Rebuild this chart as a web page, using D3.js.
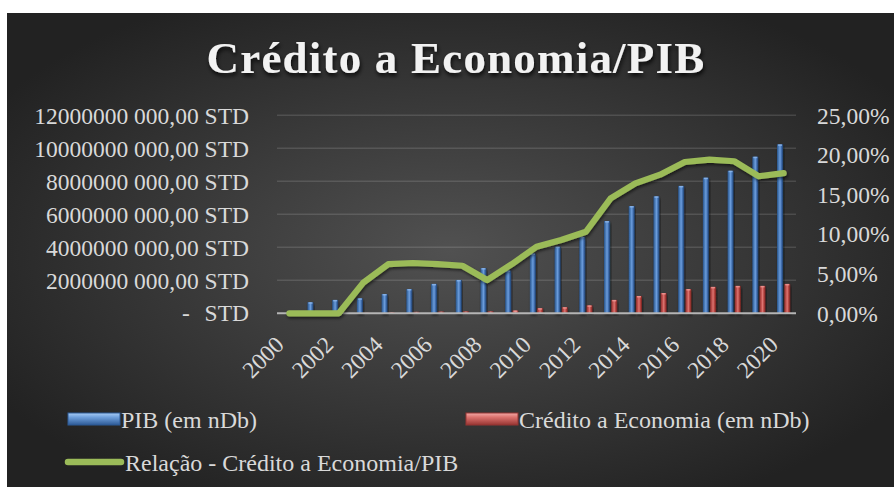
<!DOCTYPE html>
<html>
<head>
<meta charset="utf-8">
<script src="https://cdn.jsdelivr.net/npm/d3@7/dist/d3.min.js"></script>
<style>
  html, body { margin: 0; padding: 0; background: #ffffff; }
  svg { display: block; }
  text { font-family: "Liberation Serif", "Times New Roman", serif; }
</style>
</head>
<body>
<svg id="chart" width="894" height="487"></svg>
<script>
// Série anual 2000–2020
const years = ["2000","2001","2002","2003","2004","2005","2006","2007","2008","2009","2010",
               "2011","2012","2013","2014","2015","2016","2017","2018","2019","2020"];
// PIB (em nDb), STD
const pib = [null, 0.67e9, 0.81e9, 0.91e9, 1.17e9, 1.47e9, 1.78e9, 2.02e9, 2.74e9, 2.60e9, 3.63e9,
             4.04e9, 4.64e9, 5.59e9, 6.50e9, 7.09e9, 7.72e9, 8.22e9, 8.64e9, 9.49e9, 10.24e9];
// Crédito a Economia (em nDb), STD
const credito = [0, 0, 0, 0.035e9, 0.07e9, 0.09e9, 0.11e9, 0.12e9, 0.12e9, 0.17e9, 0.31e9,
                 0.37e9, 0.48e9, 0.81e9, 1.05e9, 1.23e9, 1.47e9, 1.60e9, 1.66e9, 1.66e9, 1.78e9];
// Relação Crédito/PIB, %
const relacao = [0, 0, 0, 3.9, 6.2, 6.35, 6.2, 6.0, 4.2, 6.2, 8.4,
                 9.25, 10.3, 14.5, 16.4, 17.5, 19.1, 19.4, 19.2, 17.3, 17.7];
// Ticks
const leftTicks = [0, 2e9, 4e9, 6e9, 8e9, 10e9, 12e9];
const rightTicks = [0, 5, 10, 15, 20, 25];
const yearLabels = years.filter((d, i) => i % 2 === 0);
const seriesNames = ["PIB (em nDb)", "Crédito a Economia (em nDb)", "Relação - Crédito a Economia/PIB"];

const FONT = "Liberation Serif, Times New Roman, serif";
const LABEL = "#d9d9d9";

const svg = d3.select("#chart");
const defs = svg.append("defs");

// Background gradient
const bg = defs.append("radialGradient").attr("id", "bg")
  .attr("cx", "50%").attr("cy", "50%").attr("r", "60%");
bg.append("stop").attr("offset", "0%").attr("stop-color", "#515151");
bg.append("stop").attr("offset", "100%").attr("stop-color", "#222222");

function barGradient(id, stops) {
  const g = defs.append("linearGradient").attr("id", id)
    .attr("x1", "0%").attr("x2", "100%").attr("y1", "0%").attr("y2", "0%");
  stops.forEach(s => g.append("stop").attr("offset", s[0]).attr("stop-color", s[1]));
}
barGradient("blueBar", [["0%", "#2a548c"], ["30%", "#4f81bd"], ["50%", "#6c9ddd"], ["75%", "#3e6cab"], ["100%", "#1d3d69"]]);
barGradient("redBar", [["0%", "#8a2e2c"], ["30%", "#c0504d"], ["50%", "#dc7672"], ["75%", "#b3403d"], ["100%", "#6f2220"]]);

function vGradient(id, stops) {
  const g = defs.append("linearGradient").attr("id", id)
    .attr("x1", "0%").attr("x2", "0%").attr("y1", "0%").attr("y2", "100%");
  stops.forEach(s => g.append("stop").attr("offset", s[0]).attr("stop-color", s[1]));
}
vGradient("blueKey", [["0%", "#a9cdf5"], ["35%", "#6fa0dc"], ["100%", "#2d5a96"]]);
vGradient("redKey", [["0%", "#f3aaa7"], ["35%", "#dc726e"], ["100%", "#963532"]]);

const shadow = defs.append("filter").attr("id", "shadow")
  .attr("x", "-20%").attr("y", "-20%").attr("width", "140%").attr("height", "140%");
shadow.append("feDropShadow").attr("dx", 1).attr("dy", 2).attr("stdDeviation", 1.5)
  .attr("flood-color", "#000").attr("flood-opacity", 0.55);

const textShadow = defs.append("filter").attr("id", "textShadow")
  .attr("x", "-10%").attr("y", "-20%").attr("width", "120%").attr("height", "150%");
textShadow.append("feDropShadow").attr("dx", 1).attr("dy", 3).attr("stdDeviation", 2)
  .attr("flood-color", "#000").attr("flood-opacity", 0.8);

// Chart area
svg.append("rect").attr("x", 7).attr("y", 13).attr("width", 887).attr("height", 474)
  .attr("fill", "url(#bg)");

// Title
svg.append("text")
  .attr("x", 456).attr("y", 73)
  .attr("text-anchor", "middle")
  .attr("font-family", FONT)
  .attr("font-size", 45).attr("font-weight", "bold")
  .attr("letter-spacing", 1.2)
  .attr("fill", "#f2f2f2")
  .attr("filter", "url(#textShadow)")
  .text("Crédito a Economia/PIB");

// Scales
const plot = { left: 277, right: 796, top: 115.3, bottom: 313.3 };
const x = d3.scaleBand().domain(years).range([plot.left, plot.right]).padding(0);
const yL = d3.scaleLinear().domain([0, 12e9]).range([plot.bottom, plot.top]);
const yR = d3.scaleLinear().domain([0, 25]).range([plot.bottom, plot.top]);
const cx = d => x(d) + x.bandwidth() / 2;

// Gridlines
svg.append("g").selectAll("line").data(leftTicks.slice(1)).join("line")
  .attr("x1", plot.left).attr("x2", plot.right)
  .attr("y1", d => yL(d)).attr("y2", d => yL(d))
  .attr("stroke", "#ffffff").attr("stroke-opacity", 0.13).attr("stroke-width", 1.5);

// Left axis labels
const leftAxis = d3.axisLeft(yL).tickValues(leftTicks).tickSize(0).tickPadding(0)
  .tickFormat(d => d === 0 ? "" : (d / 1000).toFixed(0) + " 000,00 STD");
const gL = svg.append("g").attr("transform", "translate(249,0)").call(leftAxis);
gL.select(".domain").remove();
gL.attr("font-family", FONT);
gL.selectAll("text").attr("font-size", 23.5).attr("fill", LABEL)
  .attr("font-family", FONT).attr("dy", "0.33em");
// zero label in accounting style
svg.append("text").attr("x", 249).attr("y", yL(0)).attr("dy", "0.33em")
  .attr("font-family", FONT)
  .attr("text-anchor", "end").attr("font-size", 23.5).attr("fill", LABEL).text("STD");
svg.append("text").attr("x", 186).attr("y", yL(0)).attr("dy", "0.33em")
  .attr("font-family", FONT)
  .attr("text-anchor", "middle").attr("font-size", 23.5).attr("fill", LABEL).text("-");

// Right axis labels
const rightAxis = d3.axisRight(yR).tickValues(rightTicks).tickSize(0).tickPadding(0)
  .tickFormat(d => d.toFixed(2).replace(".", ",") + "%");
const gR = svg.append("g").attr("transform", "translate(817,0)").call(rightAxis);
gR.select(".domain").remove();
gR.attr("font-family", FONT);
gR.selectAll("text").attr("font-size", 23.5).attr("fill", LABEL)
  .attr("font-family", FONT).attr("dy", "0.33em");

// Bars
const barW = 6;
const barGroup = svg.append("g");
barGroup.selectAll("rect.pib").data(years.map((y, i) => ({ y, v: pib[i] })).filter(d => d.v))
  .join("rect").attr("class", "pib")
  .attr("x", d => cx(d.y) - 3.6 - barW / 2).attr("width", barW)
  .attr("y", d => yL(d.v)).attr("height", d => yL(0) - yL(d.v))
  .attr("fill", "url(#blueBar)").attr("filter", "url(#shadow)");
barGroup.selectAll("rect.cred").data(years.map((y, i) => ({ y, v: credito[i] })).filter(d => d.v))
  .join("rect").attr("class", "cred")
  .attr("x", d => cx(d.y) + 3.6 - barW / 2).attr("width", barW)
  .attr("y", d => yL(d.v)).attr("height", d => yL(0) - yL(d.v))
  .attr("fill", "url(#redBar)").attr("filter", "url(#shadow)");
// bar top highlights
barGroup.selectAll("rect.pibTop").data(years.map((y, i) => ({ y, v: pib[i] })).filter(d => d.v))
  .join("rect").attr("class", "pibTop")
  .attr("x", d => cx(d.y) - 3.6 - barW / 2 + 1).attr("width", barW - 2)
  .attr("y", d => yL(d.v)).attr("height", 1.5)
  .attr("fill", "#8fb8ec").attr("opacity", 0.8);
barGroup.selectAll("rect.credTop").data(years.map((y, i) => ({ y, v: credito[i] })).filter(d => yL(0) - yL(d.v) > 2))
  .join("rect").attr("class", "credTop")
  .attr("x", d => cx(d.y) + 3.6 - barW / 2 + 1).attr("width", barW - 2)
  .attr("y", d => yL(d.v)).attr("height", 1.5)
  .attr("fill", "#f09a96").attr("opacity", 0.8);

// X axis baseline
svg.append("line").attr("x1", plot.left).attr("x2", plot.right)
  .attr("y1", plot.bottom).attr("y2", plot.bottom)
  .attr("stroke", "#b5b5b5").attr("stroke-width", 2);

// X labels (every other year), rotated
svg.append("g").selectAll("text").data(yearLabels).join("text")
  .attr("text-anchor", "end")
  .attr("font-family", FONT)
  .attr("transform", d => `translate(${cx(d) - 4},${plot.bottom + 33}) rotate(-45)`)
  .attr("font-size", 23.5).attr("fill", LABEL)
  .text(d => d);

// Ratio line (right axis)
const line = d3.line().x((d, i) => cx(years[i])).y(d => yR(d));
svg.append("path").datum(relacao)
  .attr("d", line)
  .attr("fill", "none").attr("stroke", "#9bbb59").attr("stroke-width", 6.2)
  .attr("stroke-linejoin", "round").attr("stroke-linecap", "round")
  .attr("filter", "url(#shadow)");

// Legend
const lg = svg.append("g").attr("font-family", FONT);
lg.append("rect").attr("x", 68).attr("y", 413).attr("width", 52).attr("height", 12)
  .attr("fill", "url(#blueKey)").attr("stroke", "#2d5a96").attr("stroke-width", 1);
lg.append("text").attr("x", 121).attr("y", 428).attr("font-size", 24).attr("fill", LABEL)
  .attr("font-family", FONT).text(seriesNames[0]);
lg.append("rect").attr("x", 466).attr("y", 413).attr("width", 52).attr("height", 12)
  .attr("fill", "url(#redKey)").attr("stroke", "#963532").attr("stroke-width", 1);
lg.append("text").attr("x", 519).attr("y", 428).attr("font-size", 24).attr("fill", LABEL)
  .attr("font-family", FONT).text(seriesNames[1]);
lg.append("line").attr("x1", 68).attr("x2", 121).attr("y1", 462).attr("y2", 462)
  .attr("stroke", "#9bbb59").attr("stroke-width", 6.5).attr("stroke-linecap", "round");
lg.append("text").attr("x", 125).attr("y", 471).attr("font-size", 24).attr("fill", LABEL)
  .attr("font-family", FONT).text(seriesNames[2]);
</script>
</body>
</html>
